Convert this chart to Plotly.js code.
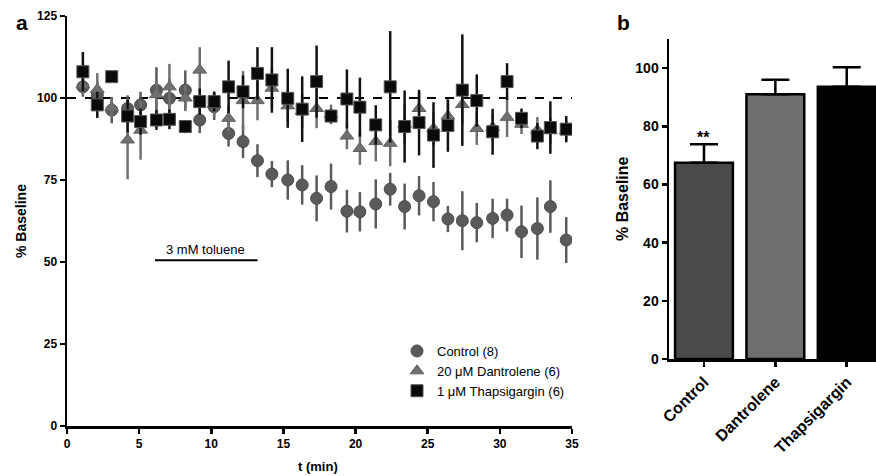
<!DOCTYPE html>
<html>
<head>
<meta charset="utf-8">
<script src="https://cdn.plot.ly/plotly-3.0.1.min.js"></script>
<style>html,body{margin:0;padding:0;background:#fff;}#chart{width:876px;height:476px;}</style>
</head>
<body>
<div id="chart"></div>
<script>
// ---- Panel a data ----
var times = [1.1, 2.1, 3.1, 4.2, 5.1, 6.2, 7.1, 8.2, 9.2, 10.2, 11.2, 12.2, 13.2, 14.2, 15.3, 16.3, 17.3, 18.3, 19.4, 20.3, 21.4, 22.4, 23.4, 24.4, 25.4, 26.4, 27.4, 28.4, 29.5, 30.5, 31.5, 32.6, 33.5, 34.6];
var control = [103.4, 101, 96.3, 96.8, 97.9, 102.4, 99.9, 102.4, 93.3, 97.3, 89.2, 86.7, 80.9, 76.8, 75, 73.5, 69.4, 73, 65.5, 65.3, 67.7, 72.2, 66.9, 70.2, 68.4, 63.1, 62.6, 62, 63.3, 64.3, 59.2, 60.2, 66.9, 56.7];
var controlErr = [3, 4, 4, 4, 4, 7, 6, 6, 4, 4, 4, 5, 5, 4, 6, 6, 7, 7, 6.5, 6, 7.5, 5, 7, 6, 6, 4, 9, 6, 6, 5, 8, 9.5, 8, 7];
var dantrolene = [104, 102.6, 97, 87.2, 90.2, 101, 103.4, 100, 108.5, 98, 93.8, 99.2, 99.2, 103, 97.6, 96, 96.8, 95, 88.4, 84.6, 86.7, 86.2, 92, 96.8, 90.7, 94.5, 98, 90.7, 91, 94.1, 92, 90.2, 90, 90];
var dantroleneErr = [3, 5, 3, 12, 9, 4, 7, 4, 7, 4, 4, 9, 6, 6, 5, 5, 6, 3, 4, 5, 6, 7, 6, 5, 5, 5, 6, 5, 4, 6, 3, 4, 4, 3];
var thapsigargin = [108, 97.9, 106.5, 94.5, 92.8, 93.3, 93.5, 91.3, 98.9, 98.9, 103.4, 101.9, 107.5, 105.5, 99.9, 96.6, 105, 94.5, 99.7, 97.2, 91.8, 103.4, 91.3, 92.5, 88.7, 91.6, 102.4, 99.2, 89.7, 105, 93.8, 88.4, 91, 90.5];
var thapsigarginErr = [6, 4, 1.5, 5, 4, 3, 3, 2, 4, 3, 8, 5, 8, 10, 9, 10, 11, 2, 9, 9, 6, 17, 11, 10, 10, 8, 17, 8, 7, 5.6, 3, 4, 8, 4];
var seriesNames = ['Control (8)', '20 \u03bcM Dantrolene (6)', '1 \u03bcM Thapsigargin (6)'];
var xTicksA = [0, 5, 10, 15, 20, 25, 30, 35];
var yTicksA = [0, 25, 50, 75, 100, 125];

// ---- Panel b data ----
var groups = ['Control', 'Dantrolene', 'Thapsigargin'];
var barValues = [67.5, 91, 93.6];
var barErr = [6.3, 5, 6.7];
var yTicksB = [0, 20, 40, 60, 80, 100];

var FONT = 'Liberation Sans, Arial, Helvetica, sans-serif';
var W = 876, H = 476;
function px(x){return x/W;}
function py(y){return 1 - y/H;}

var traces = [
  {x: times, y: control, name: seriesNames[0], type: 'scatter', mode: 'markers',
   marker: {symbol: 'circle', size: 12, color: '#5a5a5a', line: {color: '#4a4a4a', width: 1}},
   error_y: {type: 'data', array: controlErr, visible: true, color: '#5a5a5a', thickness: 2.5, width: 0},
   xaxis: 'x', yaxis: 'y'},
  {x: times, y: dantrolene, name: seriesNames[1], type: 'scatter', mode: 'markers',
   marker: {symbol: 'triangle-up', size: 12, color: '#707070', line: {color: '#606060', width: 1}},
   error_y: {type: 'data', array: dantroleneErr, visible: true, color: '#707070', thickness: 2.5, width: 0},
   xaxis: 'x', yaxis: 'y'},
  {x: times, y: thapsigargin, name: seriesNames[2], type: 'scatter', mode: 'markers',
   marker: {symbol: 'square', size: 12, color: '#0a0a0a', line: {color: '#555', width: 1}},
   error_y: {type: 'data', array: thapsigarginErr, visible: true, color: '#111', thickness: 2.5, width: 0},
   xaxis: 'x', yaxis: 'y'},
  {x: groups, y: barValues, type: 'bar', showlegend: false, width: 0.81,
   marker: {color: ['#4a4a4a', '#6e6e6e', '#000000'], line: {color: '#000', width: 2.5}},
   error_y: {type: 'data', symmetric: false, array: barErr, arrayminus: [0, 0, 0], visible: true, color: '#000', thickness: 2.5, width: 14},
   xaxis: 'x2', yaxis: 'y2'}
];

var tickFontA = {family: FONT, size: 12, color: '#000', weight: 'bold'};

var layout = {
  width: W, height: H,
  margin: {l: 0, r: 0, t: 0, b: 0},
  paper_bgcolor: '#fff', plot_bgcolor: 'rgba(0,0,0,0)',
  showlegend: true,
  legend: {x: px(397), y: py(336), xanchor: 'left', yanchor: 'top', bgcolor: 'rgba(0,0,0,0)',
           font: {family: FONT, size: 13, color: '#000'}, tracegroupgap: 0, itemwidth: 30},
  xaxis: {domain: [px(67), px(572)], range: [0, 35], tickvals: xTicksA, ticktext: xTicksA.map(String),
          showgrid: false, zeroline: false, showline: true, linecolor: '#000', linewidth: 2.5,
          ticks: 'outside', ticklen: 5, tickwidth: 2.5, tickcolor: '#000', tickfont: tickFontA,
          anchor: 'y', fixedrange: true},
  yaxis: {domain: [py(426), py(16)], range: [0, 125], tickvals: yTicksA, ticktext: yTicksA.map(String),
          showgrid: false, zeroline: false, showline: true, linecolor: '#000', linewidth: 2.5,
          ticks: 'outside', ticklen: 5, tickwidth: 2.5, tickcolor: '#000', tickfont: tickFontA,
          anchor: 'x', fixedrange: true},
  xaxis2: {domain: [px(669), 1], range: [-0.49, 2.41], type: 'category',
           showgrid: false, zeroline: false, showline: true, linecolor: '#000', linewidth: 2.5,
           ticks: 'outside', ticklen: 5, tickwidth: 2.5, tickcolor: '#000', tickangle: -45,
           tickfont: {family: FONT, size: 16, color: '#000', weight: 'bold'}, anchor: 'y2', fixedrange: true},
  yaxis2: {domain: [py(359), py(39)], range: [0, 110], tickvals: yTicksB, ticktext: yTicksB.map(String),
           showgrid: false, zeroline: false, showline: true, linecolor: '#000', linewidth: 2.5,
           ticks: 'outside', ticklen: 5, tickwidth: 2.5, tickcolor: '#000', tickfont: {family: FONT, size: 14, color: '#000', weight: 'bold'},
           anchor: 'x2', fixedrange: true},
  shapes: [
    {type: 'line', xref: 'x', yref: 'y', x0: 0, x1: 35, y0: 100, y1: 100,
     line: {color: '#000', width: 2, dash: 'dash'}, layer: 'below'},
    {type: 'line', xref: 'x', yref: 'y', x0: 6.1, x1: 13.2, y0: 50.5, y1: 50.5,
     line: {color: '#000', width: 2}}
  ],
  annotations: [
    {text: 'a', xref: 'paper', yref: 'paper', x: px(14), y: py(22), xanchor: 'left', yanchor: 'middle', showarrow: false,
     font: {family: FONT, size: 21, color: '#000', weight: 'bold'}},
    {text: 'b', xref: 'paper', yref: 'paper', x: px(615), y: py(22), xanchor: 'left', yanchor: 'middle', showarrow: false,
     font: {family: FONT, size: 21, color: '#000', weight: 'bold'}},
    {text: '% Baseline', xref: 'paper', yref: 'paper', x: px(21), y: py(221), textangle: -90, showarrow: false,
     xanchor: 'center', yanchor: 'middle', font: {family: FONT, size: 14, color: '#000', weight: 'bold'}},
    {text: 't (min)', xref: 'paper', yref: 'paper', x: px(318), y: py(466), showarrow: false,
     xanchor: 'center', yanchor: 'middle', font: {family: FONT, size: 13, color: '#000', weight: 'bold'}},
    {text: '% Baseline', xref: 'paper', yref: 'paper', x: px(622), y: py(199), textangle: -90, showarrow: false,
     xanchor: 'center', yanchor: 'middle', font: {family: FONT, size: 16, color: '#000', weight: 'bold'}},
    {text: '3 mM toluene', xref: 'x', yref: 'y', x: 9.6, y: 50.5, yshift: 11, showarrow: false,
     xanchor: 'center', yanchor: 'middle', font: {family: FONT, size: 13, color: '#000'}},
    {text: '**', xref: 'x2', yref: 'y2', x: 'Control', y: barValues[0] + barErr[0], yshift: 7, showarrow: false,
     xanchor: 'center', yanchor: 'middle', font: {family: FONT, size: 16, color: '#000', weight: 'bold'}}
  ]
};

Plotly.newPlot('chart', traces, layout, {displayModeBar: false, staticPlot: true});
</script>
</body>
</html>
